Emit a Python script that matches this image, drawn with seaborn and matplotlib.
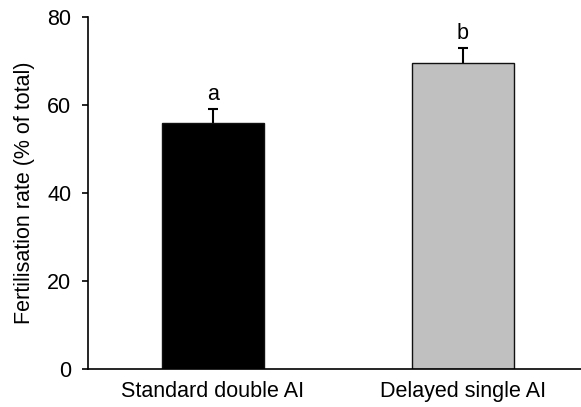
import numpy as np
import pandas as pd
import matplotlib
matplotlib.use('Agg')
import matplotlib.pyplot as plt
import seaborn as sns

## ============================================================

groups = ['Standard double AI', 'Delayed single AI']
rates = [55.8, 69.5]
errors = [3.3, 3.4]
letters = ['a', 'b']
colors = ['#000000', '#c0c0c0']

## ============================================================

sns.set_style('ticks')
plt.rcParams['font.family'] = ['Liberation Sans', 'DejaVu Sans']
plt.rcParams['text.color'] = 'black'
plt.rcParams['axes.labelcolor'] = 'black'
plt.rcParams['xtick.color'] = 'black'
plt.rcParams['ytick.color'] = 'black'

df = pd.DataFrame({'group': groups, 'rate': rates})
pos = np.arange(len(groups))
top = np.array(rates) + np.array(errors)

fig = plt.figure(figsize=(5.81, 4.07), dpi=100)
ax = fig.add_axes([0.1515, 0.0934, 0.86, 0.865])

sns.barplot(data=df, x='group', y='rate', hue='group', palette=colors,
			width=0.41, edgecolor='#111111', linewidth=1.0, legend=False, ax=ax, zorder=2)
# only the upper half of the error bar
ax.vlines(pos, rates, top, color='black', linewidth=1.5, zorder=1)
ax.hlines(top, pos - 0.02, pos + 0.02, color='black', linewidth=1.5, zorder=1)
for i, (t, l) in enumerate(zip(top, letters)):
	ax.annotate(text=l, xy=(i, t), xytext=(0, 3), textcoords='offset points',
			ha='center', va='bottom', fontsize=15.5, color='black')

ax.set_xlim(-0.5, 1.5)
ax.set_ylim(0, 80)
ax.set_yticks([0, 20, 40, 60, 80])
ax.set_xlabel('')
ax.set_ylabel('Fertilisation rate (% of total)', fontsize=15.5, labelpad=9)
ax.tick_params(axis='y', labelsize=15.5, length=4, width=1.2, direction='out', pad=8)
ax.tick_params(axis='x', labelsize=15.5, length=0, pad=9)
for s in ['left', 'bottom']:
	ax.spines[s].set_linewidth(1.2)
	ax.spines[s].set_color('black')
sns.despine(ax=ax, right=True, top=True)

fig.savefig('out.png', dpi=100)
